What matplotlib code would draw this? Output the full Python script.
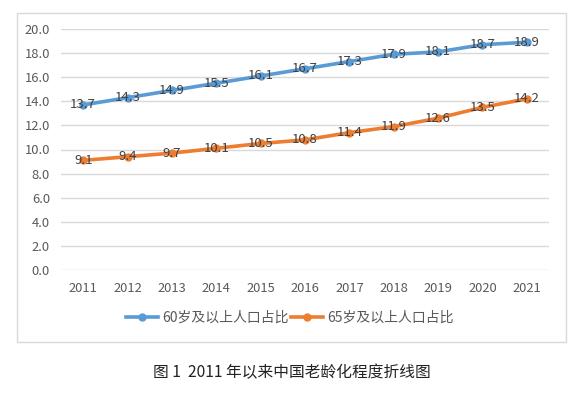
import matplotlib.pyplot as plt
from matplotlib.patches import Rectangle

plt.rcParams['font.family'] = ['Noto Sans CJK SC', 'DejaVu Sans']

years = ['2011', '2012', '2013', '2014', '2015', '2016', '2017', '2018', '2019', '2020', '2021']
pct_60 = [13.7, 14.3, 14.9, 15.5, 16.1, 16.7, 17.3, 17.9, 18.1, 18.7, 18.9]
pct_65 = [9.1, 9.4, 9.7, 10.1, 10.5, 10.8, 11.4, 11.9, 12.6, 13.5, 14.2]
yticks = [0, 2, 4, 6, 8, 10, 12, 14, 16, 18, 20]

BLUE = '#5B9BD5'
ORANGE = '#ED7D31'
GRAY = '#595959'

fig = plt.figure(figsize=(5.86, 3.97), dpi=100)
W, H = 586, 397

# chart frame
fig.patches.append(Rectangle((17 / W, 1 - 342 / H), (566 - 17) / W, (342 - 13) / H,
                             transform=fig.transFigure, fill=False,
                             edgecolor='#D9D9D9', linewidth=1))

ax = fig.add_axes([61 / W, 1 - 270 / H, (549 - 61) / W, (270 - 29) / H])
x = list(range(len(years)))
l1, = ax.plot(x, pct_60, color=BLUE, lw=2.6, marker='o', ms=5, label='60岁及以上人口占比')
l2, = ax.plot(x, pct_65, color=ORANGE, lw=2.6, marker='o', ms=5, label='65岁及以上人口占比')

for xi, v in zip(x, pct_60):
    ax.text(xi, v, f'{v:.1f}', ha='center', va='center', fontsize=9.5, color='#404040')
for xi, v in zip(x, pct_65):
    ax.text(xi, v, f'{v:.1f}', ha='center', va='center', fontsize=9.5, color='#404040')

ax.set_xlim(-0.5, len(years) - 0.5)
ax.set_ylim(0, 20)
ax.set_yticks(yticks)
ax.set_yticklabels([f'{t:.1f}' for t in yticks])
ax.set_xticks(x)
ax.set_xticklabels(years)
ax.tick_params(length=0, labelsize=9.3, colors=GRAY)
ax.tick_params(axis='x', pad=9)
ax.tick_params(axis='y', pad=8)
ax.grid(axis='y', color='#D9D9D9', lw=1)
ax.set_axisbelow(True)
for s in ax.spines.values():
    s.set_visible(False)

leg = fig.legend(handles=[l1, l2], loc='center', bbox_to_anchor=(290 / W, 1 - 318 / H),
                 ncol=2, frameon=False, fontsize=10, handlelength=2.3,
                 columnspacing=0.2, handletextpad=0.3)
for t in leg.get_texts():
    t.set_color(GRAY)

fig.text(292 / W, 1 - 373 / H, '图 1  2011 年以来中国老龄化程度折线图',
         ha='center', va='center', fontsize=11.3, color='#222222')

fig.savefig('out.png', dpi=100)
